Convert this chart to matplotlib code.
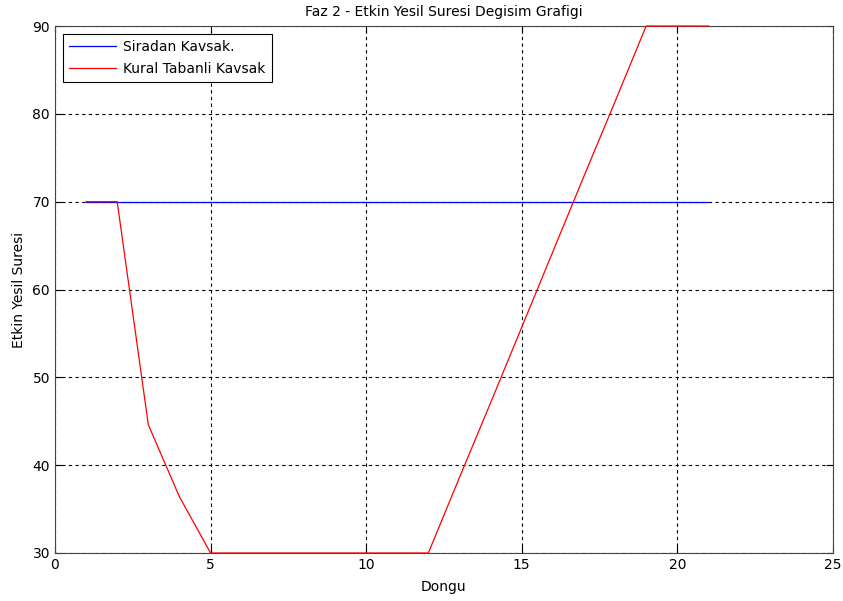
import matplotlib
matplotlib.use("Agg")
import matplotlib.pyplot as plt

plt.rcParams['font.family'] = ['DejaVu Sans']

dongu = list(range(1, 22))
siradan = [70] * 21
kural = [70, 70, 44.6, 36.4, 30, 30, 30, 30, 30, 30, 30, 30,
         38.6, 47.1, 55.7, 64.3, 72.9, 81.4, 90, 90, 90]

fig = plt.figure(figsize=(8.43, 6.01), dpi=100)
ax = fig.add_axes([0.0652, 0.0799, 0.9228, 0.8768])

ax.plot(dongu, siradan, color='blue', lw=0.9, label='Siradan Kavsak.',
        clip_on=False, zorder=3)
ax.plot(dongu, kural, color='red', lw=0.9, label='Kural Tabanli Kavsak',
        clip_on=False, zorder=3)

ax.set_xlim(0, 25)
ax.set_ylim(30, 90)
ax.set_xticks(range(0, 26, 5))
ax.set_yticks(range(30, 91, 10))
ax.grid(True, color='black', linestyle=(0, (3, 3)), linewidth=0.8)
ax.tick_params(direction='in', top=True, right=True, labelsize=10, length=5)
for s in ax.spines.values():
    s.set_color('#444444')

ax.set_title('Faz 2 - Etkin Yesil Suresi Degisim Grafigi', fontsize=10, pad=7)
ax.set_xlabel('Dongu', fontsize=10, labelpad=6)
ax.set_ylabel('Etkin Yesil Suresi', fontsize=10, labelpad=5)

leg = ax.legend(loc='upper left', fontsize=10, fancybox=False, framealpha=1,
                edgecolor='black', borderaxespad=0.55, handlelength=3.4,
                labelspacing=0.55, borderpad=0.45, handletextpad=0.5)
leg.get_frame().set_linewidth(0.8)
leg.set_zorder(5)

fig.savefig('out.png', dpi=100)
